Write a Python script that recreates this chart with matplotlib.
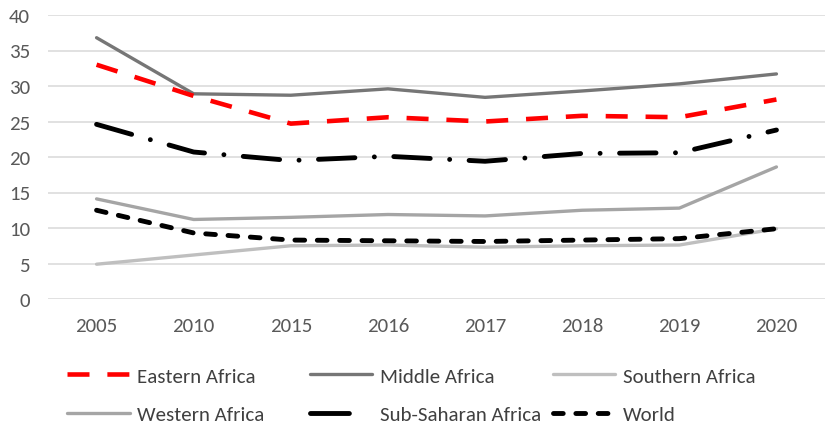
import matplotlib.pyplot as plt
from matplotlib.lines import Line2D

plt.rcParams['font.family'] = ['Carlito', 'DejaVu Sans']

years = ['2005', '2010', '2015', '2016', '2017', '2018', '2019', '2020']

eastern = [33.0, 28.6, 24.7, 25.6, 25.0, 25.8, 25.6, 28.1]
middle = [36.8, 28.9, 28.7, 29.6, 28.4, 29.3, 30.3, 31.7]
southern = [4.9, 6.2, 7.5, 7.6, 7.3, 7.5, 7.6, 9.9]
western = [14.1, 11.2, 11.5, 11.9, 11.7, 12.5, 12.8, 18.6]
subsaharan = [24.6, 20.7, 19.5, 20.1, 19.4, 20.5, 20.6, 23.8]
world = [12.5, 9.3, 8.3, 8.2, 8.1, 8.3, 8.5, 9.9]

fig = plt.figure(figsize=(8.29, 4.27), dpi=100)
# axes box: 48..825 px wide, 16..300 px tall
ax = fig.add_axes([48 / 829, 1 - 300 / 427, 777 / 829, 284 / 427])

x = range(len(years))

# light lines underneath, black ones on top
l_south, = ax.plot(x, southern, color='#BFBFBF', lw=2.4, solid_capstyle='round')
l_west, = ax.plot(x, western, color='#A5A5A5', lw=2.4, solid_capstyle='round')
l_mid, = ax.plot(x, middle, color='#767676', lw=2.4, solid_capstyle='round')
l_east, = ax.plot(x, eastern, color='#FF0000', lw=3.3, dashes=(4.8, 3.9),
                  dash_capstyle='butt')
l_ssa, = ax.plot(x, subsaharan, color='black', lw=3.5, dashes=(7.5, 4.0, 0.01, 4.0),
                 dash_capstyle='round')
l_world, = ax.plot(x, world, color='black', lw=3.5, dashes=(2.0, 2.6),
                   dash_capstyle='round')

ax.set_xlim(-0.5, len(years) - 0.5)
ax.set_ylim(0, 40)
ax.set_yticks(range(0, 41, 5))
ax.set_xticks(list(x))
ax.set_xticklabels(years)
ax.grid(axis='y', color='#D9D9D9', lw=1.1)
ax.set_axisbelow(True)
for s in ax.spines.values():
    s.set_visible(False)
ax.tick_params(length=0, labelsize=15, colors='#595959')
ax.tick_params(axis='x', pad=13)
ax.tick_params(axis='y', pad=13)

# the sample of the dash-dot line in the legend only shows its long dash
ssa_key = Line2D([], [], color='black', lw=3.5, dashes=(8.0, 10.0), dash_capstyle='round')

# legend: three columns of two rows, placed like the original
cols = [
    ([l_east, l_west], ['Eastern Africa', 'Western Africa'], 67),
    ([l_mid, ssa_key], ['Middle Africa', 'Sub-Saharan Africa'], 310),
    ([l_south, l_world], ['Southern Africa', 'World'], 553),
]
for handles, labels, xpix in cols:
    fig.legend(handles, labels, loc='center left',
               bbox_to_anchor=(xpix / 829, 1 - 396 / 427),
               frameon=False, fontsize=15, handlelength=3.0, handletextpad=0.35,
               labelspacing=1.0, borderaxespad=0, borderpad=0, labelcolor='#404040')

fig.savefig('out.png', dpi=100)
